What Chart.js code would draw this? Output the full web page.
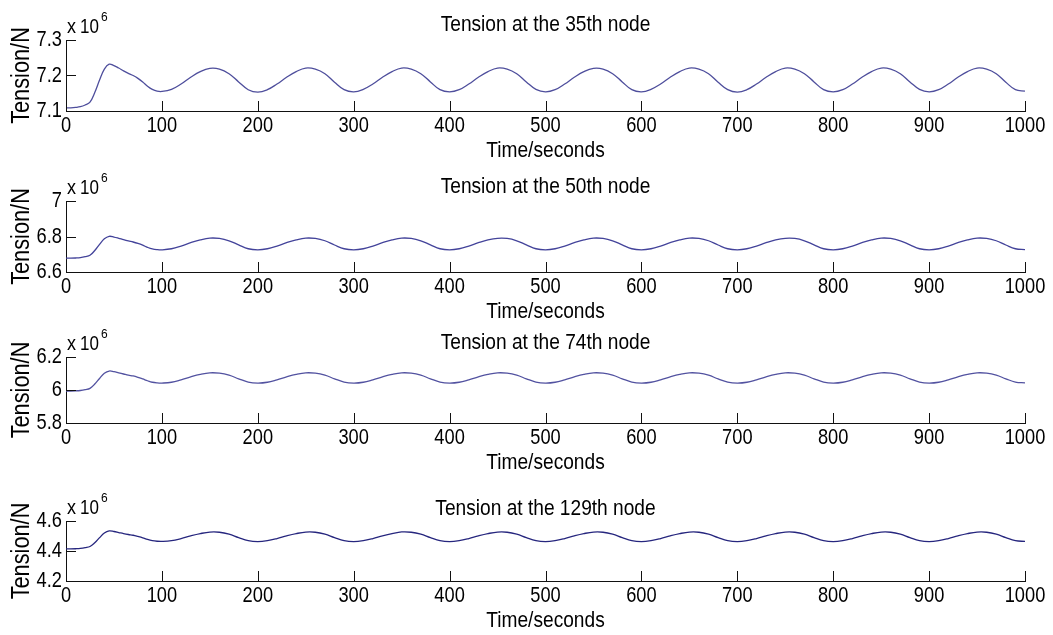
<!DOCTYPE html>
<html>
<head>
<meta charset="utf-8">
<title>Tension at nodes</title>
<script src="https://cdn.jsdelivr.net/npm/chart.js@4.4.1/dist/chart.umd.min.js"></script>
<style>
  html, body { margin: 0; padding: 0; background: #fff; }
  #wrap { position: relative; width: 1053px; height: 635px; overflow: hidden; }
  #wrap canvas { position: absolute; left: 0; }
</style>
</head>
<body>
<div id="wrap"></div>
<script>
// time axis (seconds)
var times = [
  0, 5, 10, 15, 20, 25, 30, 35, 40, 45, 50, 55, 60, 65, 70, 75, 80, 85, 90, 95, 100,
  110, 120, 130, 140, 150, 160, 170, 180, 190, 200,
  210, 220, 230, 240, 250, 260, 270, 280, 290, 300,
  310, 320, 330, 340, 350, 360, 370, 380, 390, 400,
  410, 420, 430, 440, 450, 460, 470, 480, 490, 500,
  510, 520, 530, 540, 550, 560, 570, 580, 590, 600,
  610, 620, 630, 640, 650, 660, 670, 680, 690, 700,
  710, 720, 730, 740, 750, 760, 770, 780, 790, 800,
  810, 820, 830, 840, 850, 860, 870, 880, 890, 900,
  910, 920, 930, 940, 950, 960, 970, 980, 990, 1000
];

// tension, x 10^6 N
var node35 = [
  7.109, 7.109, 7.110, 7.112, 7.117, 7.125, 7.152, 7.187, 7.218, 7.232, 7.228, 7.221, 7.213, 7.206, 7.200, 7.192, 7.182, 7.170, 7.161, 7.156, 7.155,
  7.161, 7.176, 7.195, 7.211, 7.220, 7.218, 7.205, 7.182, 7.160, 7.153,
  7.160, 7.176, 7.195, 7.211, 7.221, 7.218, 7.205, 7.181, 7.160, 7.154,
  7.161, 7.176, 7.195, 7.211, 7.221, 7.218, 7.205, 7.182, 7.160, 7.154,
  7.160, 7.176, 7.195, 7.211, 7.221, 7.218, 7.205, 7.182, 7.161, 7.154,
  7.160, 7.176, 7.195, 7.211, 7.220, 7.218, 7.205, 7.182, 7.160, 7.154,
  7.161, 7.176, 7.195, 7.211, 7.221, 7.218, 7.205, 7.181, 7.160, 7.153,
  7.160, 7.176, 7.195, 7.211, 7.221, 7.218, 7.205, 7.182, 7.160, 7.154,
  7.160, 7.176, 7.195, 7.211, 7.221, 7.218, 7.205, 7.182, 7.161, 7.154,
  7.160, 7.176, 7.195, 7.211, 7.221, 7.218, 7.205, 7.181, 7.160, 7.156
];
var node50 = [
  6.678, 6.678, 6.679, 6.681, 6.686, 6.694, 6.721, 6.756, 6.787, 6.801, 6.797, 6.790, 6.782, 6.775, 6.769, 6.761, 6.751, 6.739, 6.730, 6.726, 6.725,
  6.731, 6.746, 6.765, 6.781, 6.791, 6.789, 6.776, 6.753, 6.731, 6.725,
  6.731, 6.746, 6.765, 6.781, 6.791, 6.789, 6.776, 6.752, 6.731, 6.725,
  6.731, 6.746, 6.765, 6.781, 6.791, 6.789, 6.776, 6.753, 6.731, 6.725,
  6.731, 6.746, 6.765, 6.781, 6.790, 6.789, 6.776, 6.753, 6.731, 6.725,
  6.731, 6.746, 6.765, 6.781, 6.791, 6.789, 6.776, 6.753, 6.731, 6.725,
  6.731, 6.746, 6.765, 6.781, 6.791, 6.789, 6.776, 6.752, 6.731, 6.725,
  6.731, 6.746, 6.765, 6.781, 6.790, 6.789, 6.776, 6.753, 6.731, 6.725,
  6.731, 6.746, 6.765, 6.781, 6.791, 6.789, 6.776, 6.753, 6.731, 6.725,
  6.731, 6.746, 6.765, 6.781, 6.791, 6.789, 6.776, 6.752, 6.731, 6.726
];
var node74 = [
  5.994, 5.994, 5.995, 5.997, 6.002, 6.010, 6.036, 6.070, 6.101, 6.115, 6.111, 6.104, 6.097, 6.090, 6.085, 6.077, 6.067, 6.056, 6.047, 6.043, 6.042,
  6.047, 6.062, 6.080, 6.095, 6.104, 6.102, 6.090, 6.068, 6.048, 6.042,
  6.047, 6.062, 6.080, 6.095, 6.104, 6.102, 6.090, 6.068, 6.048, 6.042,
  6.047, 6.062, 6.080, 6.095, 6.104, 6.102, 6.090, 6.068, 6.048, 6.042,
  6.047, 6.062, 6.080, 6.095, 6.104, 6.102, 6.090, 6.068, 6.048, 6.042,
  6.047, 6.062, 6.080, 6.095, 6.104, 6.102, 6.090, 6.068, 6.048, 6.042,
  6.047, 6.062, 6.080, 6.095, 6.104, 6.102, 6.090, 6.067, 6.048, 6.042,
  6.047, 6.062, 6.080, 6.095, 6.104, 6.102, 6.090, 6.068, 6.048, 6.042,
  6.047, 6.062, 6.080, 6.095, 6.104, 6.102, 6.090, 6.068, 6.048, 6.042,
  6.047, 6.062, 6.080, 6.095, 6.104, 6.102, 6.090, 6.068, 6.048, 6.043
];
var node129 = [
  4.414, 4.414, 4.415, 4.417, 4.422, 4.430, 4.455, 4.489, 4.520, 4.534, 4.530, 4.523, 4.516, 4.510, 4.505, 4.497, 4.488, 4.477, 4.469, 4.465, 4.464,
  4.469, 4.483, 4.501, 4.516, 4.526, 4.525, 4.512, 4.489, 4.469, 4.463,
  4.469, 4.483, 4.501, 4.516, 4.526, 4.525, 4.512, 4.489, 4.469, 4.463,
  4.469, 4.483, 4.501, 4.516, 4.527, 4.525, 4.512, 4.489, 4.469, 4.463,
  4.469, 4.483, 4.501, 4.516, 4.526, 4.525, 4.512, 4.489, 4.469, 4.463,
  4.469, 4.483, 4.501, 4.516, 4.526, 4.525, 4.512, 4.489, 4.469, 4.463,
  4.469, 4.483, 4.501, 4.516, 4.526, 4.525, 4.512, 4.489, 4.469, 4.463,
  4.469, 4.483, 4.501, 4.516, 4.526, 4.525, 4.512, 4.489, 4.469, 4.463,
  4.469, 4.483, 4.501, 4.516, 4.526, 4.525, 4.512, 4.489, 4.469, 4.463,
  4.469, 4.483, 4.501, 4.516, 4.526, 4.525, 4.512, 4.489, 4.469, 4.464
];

// tick labels
var xTicks = [0, 100, 200, 300, 400, 500, 600, 700, 800, 900, 1000];
var yTicks35 = [7.1, 7.2, 7.3];
var yTicks50 = [6.6, 6.8, 7];
var yTicks74 = [5.8, 6, 6.2];
var yTicks129 = [4.2, 4.4, 4.6];

var FONT = '"Liberation Sans", Arial, Helvetica, sans-serif';
var AXIS = '#111';
var PLOT_LEFT = 66, PLOT_RIGHT = 1025;
var ABOVE = 45, BELOW = 58;

// one subplot per node
var panels = [
  { title: 'Tension at the 35th node', data: node35, yTicks: yTicks35, top: 40, bottom: 111, titleBase: 31, color: '#4e4e9c' },
  { title: 'Tension at the 50th node', data: node50, yTicks: yTicks50, top: 201, bottom: 272, titleBase: 193, color: '#43439a' },
  { title: 'Tension at the 74th node', data: node74, yTicks: yTicks74, top: 357, bottom: 423, titleBase: 349, color: '#5252a0' },
  { title: 'Tension at the 129th node', data: node129, yTicks: yTicks129, top: 521, bottom: 581, titleBase: 515, color: '#26267e' }
];

// canvas text with a narrow squeeze along the writing direction
function putText(ctx, str, x, y, size, squash, align, baseline, rotated) {
  ctx.save();
  ctx.translate(x, y);
  if (rotated) ctx.rotate(-Math.PI / 2);
  ctx.scale(squash, 1);
  ctx.font = size + 'px ' + FONT;
  ctx.textAlign = align;
  ctx.textBaseline = baseline;
  ctx.fillStyle = '#000';
  ctx.fillText(str, 0, 0);
  ctx.restore();
}

// inward ticks, labels and titles drawn off the chart's scales
function decor(p) {
  return {
    id: 'decor',
    afterDraw: function (chart) {
      var ctx = chart.ctx, a = chart.chartArea;
      var xs = chart.scales.x, ys = chart.scales.y;

      ctx.save();
      ctx.strokeStyle = AXIS;
      ctx.lineWidth = 1;
      ctx.beginPath();
      xTicks.forEach(function (v) {
        var px = Math.round(xs.getPixelForValue(v)) + 0.5;
        ctx.moveTo(px, a.bottom);
        ctx.lineTo(px, a.bottom - 10);
      });
      p.yTicks.forEach(function (v) {
        var py = Math.round(ys.getPixelForValue(v)) + 0.5;
        ctx.moveTo(a.left, py);
        ctx.lineTo(a.left + 10, py);
      });
      ctx.stroke();
      ctx.restore();

      xTicks.forEach(function (v) {
        putText(ctx, String(v), xs.getPixelForValue(v), a.bottom + 15, 22, 0.83, 'center', 'middle');
      });
      p.yTicks.forEach(function (v) {
        putText(ctx, String(v), a.left - 4, ys.getPixelForValue(v), 22, 0.83, 'right', 'middle');
      });

      var cx = (a.left + a.right) / 2;
      putText(ctx, p.title, cx, p.titleBase - chart.canvas.offsetTop, 22, 0.87, 'center', 'alphabetic');
      putText(ctx, 'Time/seconds', cx, a.bottom + 40, 22, 0.87, 'center', 'middle');
      putText(ctx, 'Tension/N', 22, (a.top + a.bottom) / 2, 25, 0.87, 'center', 'middle', true);

      // x 10^6 multiplier
      putText(ctx, 'x', a.left + 1, a.top - 7, 20, 0.9, 'left', 'alphabetic');
      putText(ctx, '10', a.left + 14, a.top - 7, 20, 0.85, 'left', 'alphabetic');
      putText(ctx, '6', a.left + 35, a.top - 19, 12, 1, 'left', 'alphabetic');
    }
  };
}

var wrap = document.getElementById('wrap');

panels.forEach(function (p) {
  var canvas = document.createElement('canvas');
  var h = (p.bottom - p.top) + ABOVE + BELOW;
  canvas.width = 1053;
  canvas.height = h;
  canvas.style.top = (p.top - ABOVE) + 'px';
  canvas.style.width = '1053px';
  canvas.style.height = h + 'px';
  wrap.appendChild(canvas);

  var points = times.map(function (t, i) { return { x: t, y: p.data[i] }; });

  new Chart(canvas.getContext('2d'), {
    type: 'line',
    data: {
      datasets: [{
        data: points,
        borderColor: p.color,
        borderWidth: 1.3,
        pointRadius: 0,
        fill: false,
        tension: 0.4
      }]
    },
    options: {
      responsive: false,
      animation: false,
      events: [],
      layout: { padding: { top: ABOVE, bottom: BELOW, left: PLOT_LEFT, right: 1053 - PLOT_RIGHT } },
      plugins: { legend: { display: false }, tooltip: { enabled: false } },
      scales: {
        x: {
          type: 'linear',
          min: 0,
          max: 1000,
          ticks: { display: false },
          grid: { display: false, drawTicks: false },
          border: { display: true, color: AXIS, width: 1 },
          afterFit: function (s) { s.height = 0; }
        },
        y: {
          type: 'linear',
          min: p.yTicks[0],
          max: p.yTicks[p.yTicks.length - 1],
          ticks: { display: false },
          grid: { display: false, drawTicks: false },
          border: { display: true, color: AXIS, width: 1 },
          afterFit: function (s) { s.width = 0; }
        }
      }
    },
    plugins: [decor(p)]
  });
});
</script>
</body>
</html>
